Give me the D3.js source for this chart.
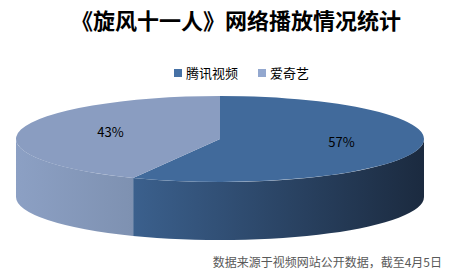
<!DOCTYPE html>
<html>
<head>
<meta charset="utf-8">
<script src="https://cdn.jsdelivr.net/npm/d3@7"></script>
<style>
  body { margin: 0; background: #fff; }
  text { font-family: "Noto Sans CJK SC", "Noto Sans", sans-serif; }
</style>
</head>
<body>
<div id="chart"></div>
<script>
// chart data
var categories = ["腾讯视频", "爱奇艺"];
var shares = [57, 43];
var labels = ["57%", "43%"];
var title = "《旋风十一人》网络播放情况统计";
var note = "数据来源于视频网站公开数据，截至4月5日";

var svgWidth = 452;
var svgHeight = 278;

// pie geometry (ellipse for the top face + depth for the wall)
var cx = 220, cy = 139, rx = 204, ry = 43, depth = 58;

var topColors = ["#416a9b", "#8a9dc1"];
var legendColors = ["#4671a5", "#93a8cf"];
var sideStops = [["#3b608d", "#1b2a3f"], ["#8ca0c4", "#7e91b1"]];

var svg = d3.select("#chart")
  .append("svg")
  .attr("width", svgWidth)
  .attr("height", svgHeight);

var defs = svg.append("defs");

var pie = d3.pie().sort(null).value(d => d)(shares);

// gradients for the side walls
pie.forEach(function(d, i) {
  var a0 = Math.max(d.startAngle, Math.PI / 2);
  var a1 = Math.min(d.endAngle, Math.PI * 1.5);
  var xs = [cx + rx * Math.sin(a0), cx + rx * Math.sin(a1)];
  var g = defs.append("linearGradient")
    .attr("id", "side" + i)
    .attr("gradientUnits", "userSpaceOnUse")
    .attr("x1", d3.min(xs)).attr("x2", d3.max(xs))
    .attr("y1", 0).attr("y2", 0);
  g.append("stop").attr("offset", 0).attr("stop-color", sideStops[i][0]);
  g.append("stop").attr("offset", 1).attr("stop-color", sideStops[i][1]);
});

function pt(a, dy) {
  return [cx + rx * Math.sin(a), cy - ry * Math.cos(a) + (dy || 0)];
}

// side walls, only the front half can be seen
pie.forEach(function(d, i) {
  var a0 = Math.max(d.startAngle, Math.PI / 2);
  var a1 = Math.min(d.endAngle, Math.PI * 1.5);
  if (a1 <= a0) return;
  var large = (a1 - a0) > Math.PI ? 1 : 0;
  var p0 = pt(a0), p1 = pt(a1), q1 = pt(a1, depth), q0 = pt(a0, depth);
  var path = "M" + p0 + " A" + rx + "," + ry + " 0 " + large + " 1 " + p1 +
    " L" + q1 + " A" + rx + "," + ry + " 0 " + large + " 0 " + q0 + " Z";
  svg.append("path")
    .attr("d", path)
    .attr("fill", "url(#side" + i + ")");
});

// top face, a circle arc squashed into an ellipse
var arc = d3.arc().innerRadius(0).outerRadius(rx);
svg.append("g")
  .attr("transform", `translate(${cx},${cy}) scale(1,${ry / rx})`)
  .selectAll("path")
  .data(pie)
  .enter()
  .append("path")
  .attr("d", arc)
  .attr("fill", (d, i) => topColors[i]);

// percent labels
var labelArc = d3.arc().innerRadius(rx * 0.58).outerRadius(rx * 0.58);
svg.selectAll(".lbl")
  .data(pie)
  .enter()
  .append("text")
  .attr("class", "lbl")
  .attr("x", d => cx + labelArc.centroid(d)[0] + 6)
  .attr("y", d => cy + labelArc.centroid(d)[1] * ry / rx + 3)
  .attr("text-anchor", "middle")
  .attr("font-size", "13px")
  .attr("fill", "#000")
  .text((d, i) => labels[i]);

// title
svg.append("text")
  .attr("x", 236)
  .attr("y", 29)
  .attr("text-anchor", "middle")
  .attr("font-size", "22px")
  .attr("font-weight", "bold")
  .attr("fill", "#000")
  .text(title);

// legend
var legendX = [174, 258];
var legend = svg.selectAll(".legend")
  .data(categories)
  .enter()
  .append("g")
  .attr("transform", (d, i) => `translate(${legendX[i]}, 69)`);
legend.append("rect")
  .attr("width", 8).attr("height", 8)
  .attr("fill", (d, i) => legendColors[i]);
legend.append("text")
  .attr("x", 12).attr("y", 9)
  .attr("font-size", "13px")
  .attr("fill", "#000")
  .text(d => d);

// source note
svg.append("text")
  .attr("x", 442)
  .attr("y", 267)
  .attr("text-anchor", "end")
  .attr("font-size", "12px")
  .attr("fill", "#595959")
  .text(note);
</script>
</body>
</html>
